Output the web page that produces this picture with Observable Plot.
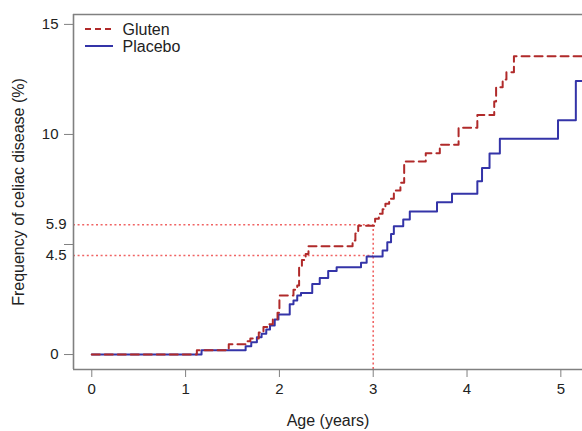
<!DOCTYPE html>
<html><head><meta charset="utf-8">
<script src="https://cdn.jsdelivr.net/npm/d3@7"></script>
<script src="https://cdn.jsdelivr.net/npm/@observablehq/plot@0.6"></script>
<style>
body{margin:0;background:#fff;}
#chart{position:relative;width:582px;height:431px;}
</style>
</head><body><div id="chart"></div>
<script>
// Gluten (dashed) step curve
const glutenAge  = [0, 1.12, 1.46, 1.64, 1.69, 1.78, 1.83, 1.87, 1.93, 1.98, 2.00, 2.15, 2.19, 2.21, 2.24, 2.28, 2.31, 2.78, 2.81, 2.84, 3.02, 3.06, 3.10, 3.13, 3.17, 3.22, 3.29, 3.33, 3.56, 3.71, 3.91, 4.11, 4.29, 4.31, 4.38, 4.42, 4.50, 5.25];
const glutenFreq = [0, 0.19, 0.47, 0.60, 0.73, 1.00, 1.25, 1.38, 1.60, 1.90, 2.68, 2.94, 3.14, 3.97, 4.30, 4.57, 4.92, 5.18, 5.50, 5.85, 6.17, 6.40, 6.60, 6.85, 7.08, 7.45, 7.80, 8.77, 9.15, 9.53, 10.30, 10.88, 11.50, 12.15, 12.50, 12.83, 13.55, 13.55];
// Placebo (solid) step curve
const placeboAge  = [0, 1.17, 1.64, 1.70, 1.76, 1.81, 1.86, 1.90, 1.95, 1.99, 2.11, 2.15, 2.19, 2.23, 2.35, 2.43, 2.52, 2.61, 2.87, 2.93, 3.10, 3.15, 3.19, 3.22, 3.32, 3.39, 3.68, 3.84, 4.11, 4.16, 4.24, 4.35, 4.97, 5.16, 5.25];
const placeboFreq = [0, 0.19, 0.38, 0.56, 0.79, 0.95, 1.14, 1.32, 1.59, 1.82, 2.28, 2.45, 2.68, 2.80, 3.20, 3.48, 3.80, 3.97, 4.17, 4.45, 4.73, 5.10, 5.48, 5.83, 6.14, 6.50, 6.92, 7.30, 7.87, 8.47, 9.13, 9.80, 10.65, 12.43, 12.43];

const xTicks = [0, 1, 2, 3, 4, 5];
const yTicks = [0, 5, 10, 15];
const yTickLabels = ["0", "", "10", "15"];
const refLabels = [4.5, 5.9];
const refAge = 3;
const xDomain = [-0.195, 5.231];
const yDomain = [-0.68, 15.45];
const seriesNames = ["Gluten", "Placebo"];
const seriesColors = ["#b02a2a", "#3434a8"];
const refColor = "#f06464";
const font = "'Liberation Sans', Arial, sans-serif";

const gluten = glutenAge.map((a, i) => ({age: a, freq: glutenFreq[i]}));
const placebo = placeboAge.map((a, i) => ({age: a, freq: placeboFreq[i]}));

const plot = Plot.plot({
  width: 582, height: 431,
  marginLeft: 73, marginTop: 14, marginBottom: 62, marginRight: 0,
  style: {fontFamily: font, background: "#fff", color: "#222"},
  x: {domain: xDomain},
  y: {domain: yDomain},
  marks: [
    // reference dotted lines
    Plot.ruleY(refLabels, {x1: xDomain[0], x2: refAge, stroke: refColor, strokeWidth: 1.6, strokeDasharray: "2,2.6"}),
    Plot.ruleX([refAge], {y1: yDomain[0], y2: d3.max(refLabels), stroke: refColor, strokeWidth: 1.6, strokeDasharray: "2,2.6"}),
    // curves
    Plot.line(placebo, {x: "age", y: "freq", curve: "step-after", stroke: seriesColors[1], strokeWidth: 2}),
    Plot.line(gluten, {x: "age", y: "freq", curve: "step-after", stroke: seriesColors[0], strokeWidth: 2, strokeDasharray: "8,5"}),
    // frame
    Plot.ruleX([xDomain[0]], {stroke: "#808080", strokeWidth: 1.6}),
    Plot.ruleY([yDomain[0], yDomain[1]], {stroke: "#808080", strokeWidth: 1.6}),
    // axes
    Plot.axisX(xTicks, {anchor: "bottom", tickSize: 8, tickPadding: 6, fontSize: 15, stroke: "#808080", fill: "#222", label: null}),
    Plot.axisY(yTicks, {anchor: "left", tickSize: 9, tickPadding: 6, fontSize: 15, stroke: "#808080", fill: "#222", tickFormat: (d) => yTickLabels[yTicks.indexOf(d)], label: null}),
    Plot.axisY(refLabels, {anchor: "left", tickSize: 0, tickPadding: 7, fontSize: 15, fill: "#222", tickFormat: d3.format(".1f"), label: null}),
    // axis titles
    Plot.text(["Age (years)"], {frameAnchor: "bottom", dy: 51, lineAnchor: "middle", textAnchor: "middle", fontSize: 16, fill: "#222"}),
    Plot.text(["Frequency of celiac disease (%)"], {frameAnchor: "left", dx: -55, rotate: -90, textAnchor: "middle", lineAnchor: "middle", fontSize: 16, fill: "#222"}),
    // legend text
    Plot.text([seriesNames[0]], {frameAnchor: "top-left", dx: 49, dy: 15, textAnchor: "start", lineAnchor: "middle", fontSize: 16, fill: "#222"}),
    Plot.text([seriesNames[1]], {frameAnchor: "top-left", dx: 49, dy: 32, textAnchor: "start", lineAnchor: "middle", fontSize: 16, fill: "#222"})
  ]
});

// legend swatches
const svg = d3.select(plot);
const g = svg.append("g");
g.append("line").attr("x1", 85).attr("x2", 113).attr("y1", 29).attr("y2", 29)
  .attr("stroke", seriesColors[0]).attr("stroke-width", 2).attr("stroke-dasharray", "6,4");
g.append("line").attr("x1", 85).attr("x2", 113).attr("y1", 46).attr("y2", 46)
  .attr("stroke", seriesColors[1]).attr("stroke-width", 2);

document.getElementById("chart").appendChild(plot);
</script>
</body></html>
